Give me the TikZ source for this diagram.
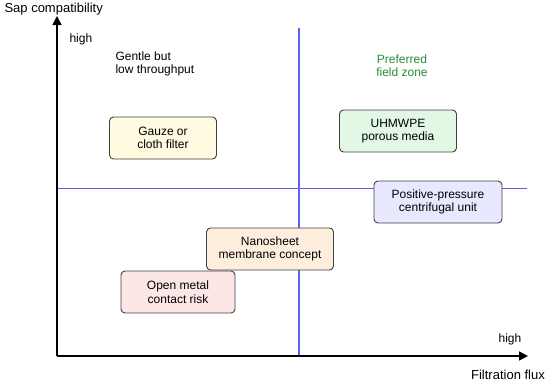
\documentclass[tikz,border=0pt]{standalone}
\usepackage{fontspec}
\setmainfont{Liberation Sans}
\usetikzlibrary{arrows.meta, positioning}

\definecolor{gridblue}{RGB}{95,95,240}
\definecolor{zonegreen}{RGB}{40,140,50}
\definecolor{fillyellow}{RGB}{255,251,225}
\definecolor{fillgreen}{RGB}{226,247,228}
\definecolor{fillblue}{RGB}{232,232,255}
\definecolor{fillpeach}{RGB}{253,238,222}
\definecolor{fillpink}{RGB}{253,230,230}

\tikzset{
  optbox/.style={draw=black!75, line width=0.9pt, rounded corners=4pt, align=center,
    minimum height=42pt, inner sep=2pt, font=\fontsize{12}{13.5}\selectfont},
  axislabel/.style={font=\fontsize{13}{15}\selectfont},
  ticklabel/.style={font=\fontsize{12}{14}\selectfont}
}

\begin{document}
\begin{tikzpicture}[x=1pt, y=-1pt]
		\useasboundingbox (0, 0) rectangle (550, 384);
		
		% Axes and quadrant lines
		\coordinate (O) at (57, 356);
		\coordinate (ytop) at (57, 16);
		\coordinate (xend) at (528, 356);
		\coordinate (vtop) at (299, 28);
		\coordinate (vbot) at (299, 356);
		\coordinate (hleft) at (57, 188.5);
		\coordinate (hright) at (527, 188.5);
		
		\draw[gridblue, line width=1.2pt] (vtop) -- (vbot);
		\draw[gridblue, line width=1.2pt] (hleft) -- (hright);
		\draw[line width=1.5pt, -{Triangle[length=9pt, width=9pt]}] (O) -- (ytop);
		\draw[line width=1.5pt, -{Triangle[length=9pt, width=9pt]}] (O) -- (xend);
		
		\node[axislabel, anchor=west] (ylab) at (1, 9) {Sap compatibility};
		\node[axislabel] (xlab) at (508, 375) {Filtration flux};
		\node[ticklabel, anchor=west] (yhigh) at (66, 39) {high};
		\node[ticklabel] (xhigh) at (510, 339) {high};
		
		% Quadrant notes
		\node[ticklabel, align=left, anchor=west, font=\fontsize{12}{13}\selectfont] (gentle) at (112, 64) {Gentle but\\low throughput};
		\node[ticklabel, align=center, text=zonegreen, font=\fontsize{12}{13}\selectfont] (zone) at (402, 66) {Preferred\\field zone};
		
		% Options
		\node[optbox, fill=fillyellow, minimum width=107pt] (gauze) at (163, 138) {Gauze or\\cloth filter};
		\node[optbox, fill=fillgreen, minimum width=117pt] (uhmwpe) at (398, 131) {UHMWPE\\porous media};
		\node[optbox, fill=fillblue, minimum width=128pt] (posit) at (438, 202) {Positive-pressure\\centrifugal unit};
		\node[optbox, fill=fillpeach, minimum width=127pt] (nano) at (270, 249) {Nanosheet\\membrane concept};
		\node[optbox, fill=fillpink, minimum width=114pt] (metal) at (178, 292) {Open metal\\contact risk};
		
	\end{tikzpicture}
\end{document}
